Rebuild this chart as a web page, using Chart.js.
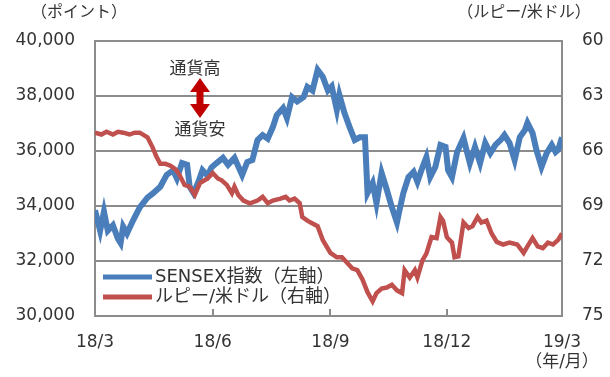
<!DOCTYPE html>
<html>
<head>
<meta charset="utf-8">
<script src="https://cdn.jsdelivr.net/npm/chart.js@4/dist/chart.umd.min.js"></script>
<style>
html,body{margin:0;padding:0;background:#fff}
canvas{display:block}
</style>
</head>
<body>
<canvas id="c" width="610" height="377"></canvas>
<script>
// jours depuis le 2018/3/1
const sensexDays = [0,4,7,10,14,18,20,22,25,30,35,41,45,51,56,61,64,68,72,74,77,81,84,88,91,95,100,104,109,115,119,123,127,131,135,139,142,147,150,154,158,163,166,170,174,178,182,185,189,191,195,199,203,207,211,213,217,220,224,228,232,236,238,241,245,249,252,256,259,262,266,270,274,276,279,283,288,291,293,297,301,305,309,313,317,320,324,328,332,336,338,342,345,349,353,357,360,362,365]
const sensexValues = [33850,33100,33800,33100,33300,32800,32650,33250,33000,33500,33950,34300,34450,34700,35130,35300,35000,35560,35500,34700,34470,34900,35300,35100,35400,35560,35750,35500,35750,35130,35600,35670,36400,36580,36450,36870,37300,37560,37200,37960,37800,37960,38330,38200,38950,38700,38200,38350,37500,38040,37380,36870,36400,36500,36500,34470,34840,34100,35200,34600,33960,33400,33850,34470,35050,35240,34880,35420,35780,35050,35420,36220,36150,35300,35050,35960,36470,35920,35560,36150,35560,36290,35920,36220,36400,36580,36290,35670,36500,36760,37020,36650,36040,35420,35920,36220,35960,36040,36500]

const rupeeDays = [0,5,9,14,18,22,27,31,35,41,45,48,51,55,59,63,66,70,74,78,82,88,92,96,99,103,107,109,112,116,121,127,131,135,139,145,149,152,156,160,162,166,170,174,178,184,189,193,197,201,205,209,213,217,220,224,228,232,236,240,242,246,250,252,256,259,263,267,270,272,275,279,281,284,288,292,295,299,302,306,310,314,319,324,330,335,338,342,346,350,354,358,362,365]
const rupeeValues = [65.0,65.1,64.95,65.1,64.95,65.0,65.1,65.0,65.0,65.25,65.8,66.3,66.7,66.7,66.8,67.0,67.3,67.85,67.95,68.4,67.75,67.5,67.2,67.5,67.6,67.85,68.3,67.95,68.4,68.7,68.85,68.7,68.5,68.85,68.7,68.6,68.5,68.7,68.6,68.85,69.6,69.8,69.95,70.1,70.85,71.56,71.8,71.8,72.1,72.4,72.5,73.0,73.7,74.2,73.75,73.5,73.45,73.3,73.6,73.75,72.5,72.9,72.5,72.9,71.95,71.6,70.7,70.75,69.6,69.8,70.7,71.0,71.8,71.75,69.9,70.2,70.1,69.6,69.9,69.8,70.5,70.96,71.1,71.0,71.1,71.56,71.2,70.75,71.2,71.3,71.0,71.1,70.85,70.5]

const tickDays = [0,92,184,275,365]
const tickLabels = ["18/3","18/6","18/9","18/12","19/3"]
const seriesNames = ["SENSEX指数（左軸）","ルピー/米ドル（右軸）"]
const colors = ["#4a7ebb","#c0504d"]

const FONT = '"DejaVu Sans","Noto Sans CJK JP",sans-serif'
const TXT = "#333333"

const extras = {
id:"extras",
beforeDatasetsDraw(chart){
const ctx = chart.ctx
const a = chart.chartArea
const x = chart.scales.x
ctx.save()
ctx.strokeStyle = "#8c8c8c"
ctx.lineWidth = 2
ctx.strokeRect(a.left,a.top,a.right-a.left,a.bottom-a.top)
// petits traits de l'axe x
tickDays.forEach(d=>{
let px = Math.round(x.getPixelForValue(d))
ctx.beginPath()
ctx.moveTo(px,a.bottom)
ctx.lineTo(px,a.bottom-7)
ctx.stroke()
})
ctx.restore()
},
afterDraw(chart){
const ctx = chart.ctx
ctx.save()
ctx.fillStyle = TXT
ctx.font = "16px "+FONT
ctx.textAlign = "center"
ctx.textBaseline = "middle"
ctx.fillText("（ポイント）",79,13)
ctx.fillText("（ルピー/米ドル）",524,13)

// annotation
ctx.font = "17px "+FONT
ctx.fillText("通貨高",195,70)
ctx.fillText("通貨安",200,131)
ctx.fillStyle = "#c00000"
ctx.beginPath()
ctx.moveTo(200,78)
ctx.lineTo(210,92)
ctx.lineTo(203.5,92)
ctx.lineTo(203.5,104)
ctx.lineTo(210,104)
ctx.lineTo(200,118)
ctx.lineTo(190,104)
ctx.lineTo(196.5,104)
ctx.lineTo(196.5,92)
ctx.lineTo(190,92)
ctx.closePath()
ctx.fill()

// légende
ctx.font = "18px "+FONT
ctx.textAlign = "left"
const rows = [277,297]
rows.forEach((y,i)=>{
ctx.strokeStyle = colors[i]
ctx.lineWidth = 5
ctx.beginPath()
ctx.moveTo(103,y)
ctx.lineTo(152,y)
ctx.stroke()
ctx.fillStyle = TXT
ctx.fillText(seriesNames[i],155,y)
})
ctx.restore()
}
}

new Chart(document.getElementById("c"),{
type:"line",
data:{
datasets:[{
label:seriesNames[0],
data:sensexDays.map((d,i)=>({x:d,y:sensexValues[i]})),
borderColor:colors[0],
borderWidth:6,
pointRadius:0,
yAxisID:"y",
order:2
},{
label:seriesNames[1],
data:rupeeDays.map((d,i)=>({x:d,y:rupeeValues[i]})),
borderColor:colors[1],
borderWidth:4.5,
pointRadius:0,
yAxisID:"y2",
order:1
}]
},
options:{
responsive:false,
animation:false,
layout:{padding:{top:41,left:0,right:0,bottom:0}},
plugins:{legend:{display:false},tooltip:{enabled:false}},
scales:{
x:{
type:"linear",
min:0,max:365,
afterBuildTicks:s=>{s.ticks = tickDays.map(v=>({value:v}))},
afterFit:s=>{s.height = 61},
grid:{display:false},
border:{display:false},
ticks:{
autoSkip:false,
maxRotation:0,
padding:8,
color:TXT,
font:{family:FONT,size:17},
callback:(v)=>{
let i = tickDays.indexOf(v)
if(i==tickLabels.length-1) return [tickLabels[i],"（年/月）"]
return tickLabels[i]
}
}
},
y:{
position:"left",
min:30000,max:40000,
afterFit:s=>{s.width = 95},
grid:{color:"#8c8c8c",lineWidth:2,drawTicks:false},
border:{display:false},
ticks:{
stepSize:2000,
padding:20,
color:TXT,
font:{family:FONT,size:17},
callback:v=>v.toLocaleString("en-US")
}
},
y2:{
position:"right",
min:60,max:75,
reverse:true,
afterFit:s=>{s.width = 48},
grid:{display:false,drawTicks:false},
border:{display:false},
ticks:{
stepSize:3,
padding:20,
color:TXT,
font:{family:FONT,size:17}
}
}
}
},
plugins:[extras]
})
</script>
</body>
</html>
